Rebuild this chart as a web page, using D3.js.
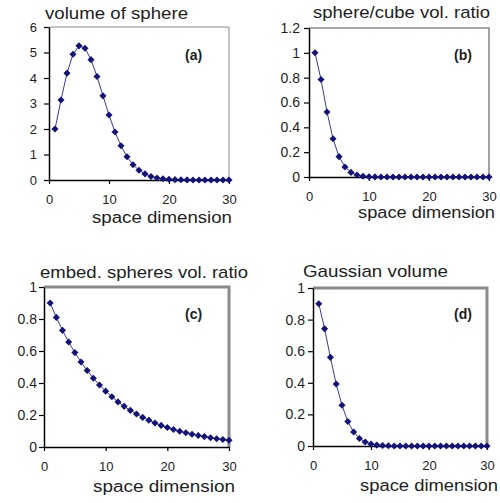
<!DOCTYPE html>
<html>
<head>
<meta charset="utf-8">
<script src="https://cdn.jsdelivr.net/npm/d3@7"></script>
<style>
body{margin:0;background:#fff}
text{font-family:"Liberation Sans",Arial,sans-serif;fill:#1e1e1e}
</style>
</head>
<body>
<div class="chart"></div>
<script>
// space dimension n = 1..30
var dims = [1,2,3,4,5,6,7,8,9,10,11,12,13,14,15,16,17,18,19,20,21,22,23,24,25,26,27,28,29,30]

// (a) volume of unit sphere
var sphereVol = [2,3.14,4.19,4.93,5.26,5.17,4.72,4.06,3.30,2.55,1.88,1.34,0.91,0.60,0.38,0.24,0.14,0.08,0.05,0.03,0.014,0.007,0.004,0.002,0.001,0.0005,0.0002,0.0001,0.00005,0.00002]
// (b) sphere / cube volume ratio
var sphereCube = [1,0.785,0.524,0.308,0.164,0.081,0.037,0.016,0.006,0.0025,0.0009,0.0003,0.0001,0.00004,0.00001,0,0,0,0,0,0,0,0,0,0,0,0,0,0,0]
// (c) embedded spheres volume ratio
var embedRatio = [0.9,0.81,0.729,0.656,0.59,0.531,0.478,0.43,0.387,0.349,0.314,0.282,0.254,0.229,0.206,0.185,0.167,0.150,0.135,0.122,0.109,0.098,0.089,0.080,0.072,0.065,0.058,0.052,0.047,0.042]
// (d) Gaussian volume
var gaussVol = [0.9,0.742,0.561,0.392,0.258,0.155,0.089,0.048,0.025,0.012,0.0057,0.0026,0.0011,0.0005,0.0002,0.0001,0,0,0,0,0,0,0,0,0,0,0,0,0,0]

var xTicks = [0,10,20,30]
var ticksA = [0,1,2,3,4,5,6]
var ticksB = [0,0.2,0.4,0.6,0.8,1,1.2]
var ticksCD = [0,0.2,0.4,0.6,0.8,1]

var titles = ["volume of sphere","sphere/cube vol. ratio","embed. spheres vol. ratio","Gaussian volume"]
var tags = ["(a)","(b)","(c)","(d)"]
var xTitle = "space dimension"

var panels = [
	{values:sphereVol, ymax:6, yTicks:ticksA, left:49, right:229, top:27, bottom:180, frame:1, pad:7, yfs:13,
	 title:[45,19,143], xt:[92,223,140], tag:[185,60]},
	{values:sphereCube, ymax:1.2, yTicks:ticksB, left:309, right:489, top:28, bottom:177, frame:1.6, pad:4, yfs:14,
	 title:[313,18,177], xt:[358,218,137], tag:[454,60]},
	{values:embedRatio, ymax:1, yTicks:ticksCD, left:44, right:229, top:287, bottom:447, frame:3, pad:2, yfs:14,
	 title:[40,278,208], xt:[93,492,142], tag:[185,319]},
	{values:gaussVol, ymax:1, yTicks:ticksCD, left:313, right:487, top:288, bottom:446, frame:3, pad:3, yfs:14,
	 title:[303,277,145], xt:[360,491,138], tag:[454,319]}
]

var width = 500, height = 503
var svg = d3.select(".chart").append("svg").attr("width",width).attr("height",height)

var marker = d3.symbol().type(d3.symbolSquare).size(25)

panels.forEach(function(p,i){
	var g = svg.append("g")
	var x = d3.scaleLinear().domain([0,30]).range([p.left,p.right])
	var y = d3.scaleLinear().domain([0,p.ymax]).range([p.bottom,p.top])

	// gray frame on top and right
	g.append("path")
	.attr("d","M"+x(0)+","+y(p.ymax)+"H"+x(30)+"V"+y(0))
	.attr("fill","none")
	.attr("stroke","#8a8a8a")
	.attr("stroke-width",p.frame)

	var yAxis = g.append("g").attr("transform","translate("+x(0)+",0)")
	.call(d3.axisLeft(y).tickValues(p.yTicks).tickSize(5).tickSizeOuter(0).tickPadding(p.pad)
		.tickFormat(function(d){return String(+d.toFixed(1))}))
	var xAxis = g.append("g").attr("transform","translate(0,"+y(0)+")")
	.call(d3.axisBottom(x).tickValues(xTicks).tickSize(4).tickSizeOuter(0).tickPadding(11))
	;[yAxis,xAxis].forEach(function(a){
		a.select(".domain").attr("stroke","#000").attr("stroke-width",1.5)
		a.selectAll(".tick line").attr("stroke","#000").attr("stroke-width",1.2)
		a.selectAll("text").attr("fill","#2a2a2a")
	})
	yAxis.selectAll("text").style("font-size",p.yfs+"px")
	xAxis.selectAll("text").style("font-size","13px")

	var line = d3.line().x(function(d,j){return x(dims[j])}).y(function(d){return y(d)})
	g.append("path").datum(p.values)
	.attr("d",line)
	.attr("fill","none")
	.attr("stroke","#3a3a98")
	.attr("stroke-width",1)

	g.selectAll("path.pt").data(p.values).enter().append("path")
	.attr("class","pt")
	.attr("d",marker)
	.attr("fill","#12127a")
	.attr("transform",function(d,j){return "translate("+x(dims[j])+","+y(d)+") rotate(45)"})

	g.append("text").text(titles[i])
	.attr("x",p.title[0]).attr("y",p.title[1])
	.attr("textLength",p.title[2]).attr("lengthAdjust","spacingAndGlyphs")
	.style("font-size","17px")

	g.append("text").text(xTitle)
	.attr("x",p.xt[0]).attr("y",p.xt[1])
	.attr("textLength",p.xt[2]).attr("lengthAdjust","spacingAndGlyphs")
	.style("font-size","16px")

	g.append("text").text(tags[i])
	.attr("x",p.tag[0]).attr("y",p.tag[1])
	.attr("font-weight","bold")
	.style("font-size","14px")
})
</script>
</body>
</html>
